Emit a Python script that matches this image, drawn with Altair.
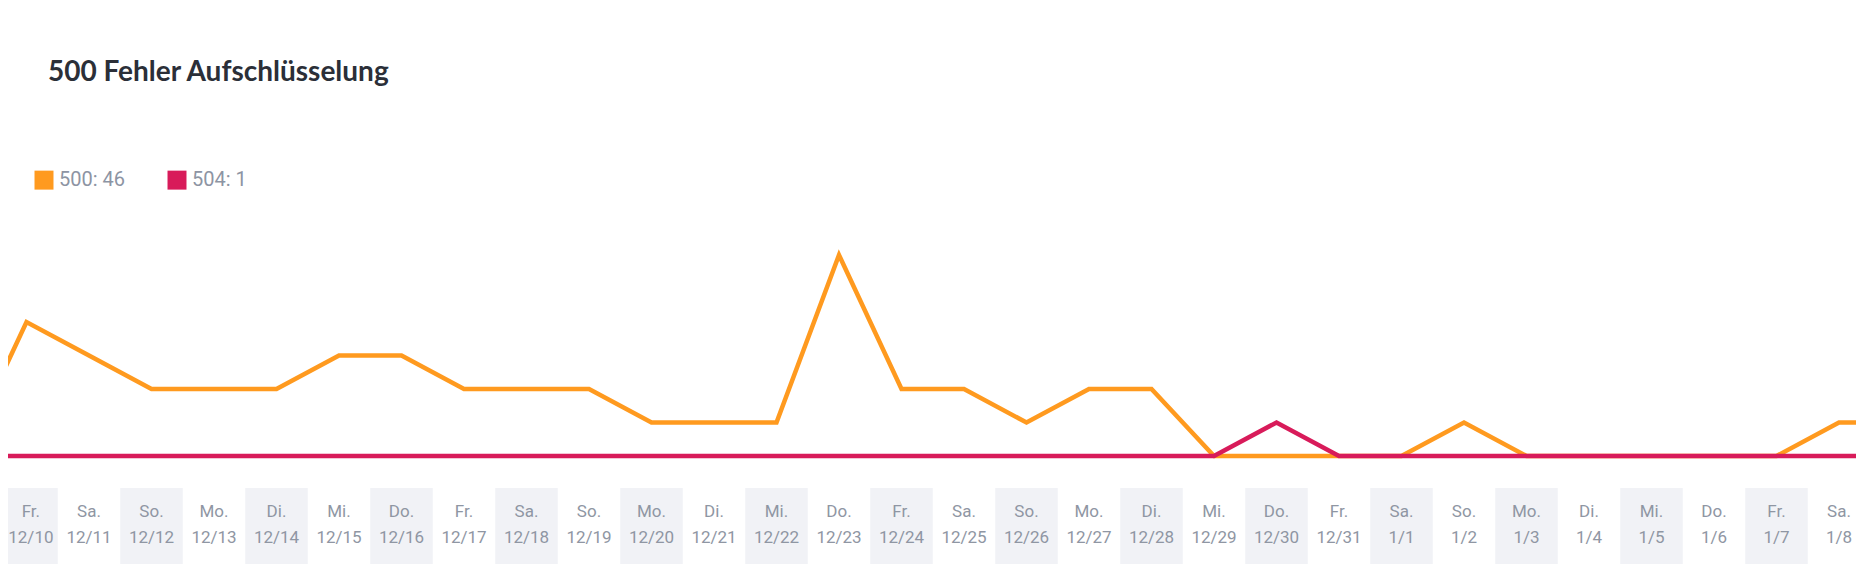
import altair as alt
import pandas as pd

# ---- data ----
title_text = "500 Fehler Aufschlüsselung"

# day index: -1 = 12/9 (off-screen left), 0 = 12/10 ... 29 = 1/8, 30 = 1/9 (off-screen right)
day_index = list(range(-1, 31))
errors_500 = [0, 4, 3, 2, 2, 2, 3, 3, 2, 2, 2, 1, 1, 1, 6, 2, 2, 1, 2, 2,
              0, 0, 0, 0, 1, 0, 0, 0, 0, 0, 1, 1]
errors_504 = [0, 0, 0, 0, 0, 0, 0, 0, 0, 0, 0, 0, 0, 0, 0, 0, 0, 0, 0, 0,
              0, 1, 0, 0, 0, 0, 0, 0, 0, 0, 0, 0]
series_names = ["500: 46", "504: 1"]
series_colors = ["#FF9A1F", "#D81B5A"]

label_days = ["Fr.", "Sa.", "So.", "Mo.", "Di.", "Mi.", "Do.",
              "Fr.", "Sa.", "So.", "Mo.", "Di.", "Mi.", "Do.",
              "Fr.", "Sa.", "So.", "Mo.", "Di.", "Mi.", "Do.",
              "Fr.", "Sa.", "So.", "Mo.", "Di.", "Mi.", "Do.",
              "Fr.", "Sa."]
label_dates = ["12/10", "12/11", "12/12", "12/13", "12/14", "12/15", "12/16",
               "12/17", "12/18", "12/19", "12/20", "12/21", "12/22", "12/23",
               "12/24", "12/25", "12/26", "12/27", "12/28", "12/29", "12/30",
               "12/31", "1/1", "1/2", "1/3", "1/4", "1/5", "1/6", "1/7", "1/8"]

# ---- tables ----
line_df = pd.concat([
    pd.DataFrame({"i": day_index, "v": errors_500, "series": series_names[0]}),
    pd.DataFrame({"i": day_index, "v": errors_504, "series": series_names[1]}),
])
label_df = pd.DataFrame({"i": list(range(len(label_dates))), "day": label_days, "date": label_dates})

W, H = 1848, 556
Y0 = 448          # pixel row of value 0 inside the plot
STEP = 33.5       # pixels per error
xscale = alt.Scale(domain=[-0.296, 29.272], nice=False, zero=False)
yscale = alt.Scale(domain=[-(H - Y0) / STEP, Y0 / STEP], nice=False, zero=False)
color_scale = alt.Scale(domain=series_names, range=series_colors)

base_lbl = alt.Chart(label_df)

bands = base_lbl.transform_filter("datum.i % 2 == 0").transform_calculate(
    x1="datum.i - 0.5", x2="datum.i + 0.5"
).mark_rect(color="#F1F2F6").encode(
    x=alt.X("x1:Q", scale=xscale, axis=None),
    x2="x2:Q",
    y=alt.value(480),
    y2=alt.value(H),
)

# keep the first date label inside the page edge
lbl_pos = "datum.i == 0 ? 0.07 : datum.i"

day_txt = base_lbl.transform_calculate(xl=lbl_pos).mark_text(
    font="Roboto", fontSize=17, color="#8F96A3", baseline="alphabetic"
).encode(
    x=alt.X("xl:Q", scale=xscale, axis=None),
    y=alt.value(509),
    text="day:N",
)
date_txt = base_lbl.transform_calculate(xl=lbl_pos).mark_text(
    font="Roboto", fontSize=17, color="#8F96A3", baseline="alphabetic"
).encode(
    x=alt.X("xl:Q", scale=xscale, axis=None),
    y=alt.value(535),
    text="date:N",
)

legend = alt.Legend(
    title=None, orient="none", legendX=26, legendY=162, direction="horizontal",
    symbolType="square", symbolSize=90, symbolStrokeWidth=9.5, symbolOpacity=1,
    labelFont="Roboto", labelFontSize=20, labelColor="#8D94A3", labelOffset=5,
    columnPadding=27, padding=0,
)

def line_layer(name):
    return alt.Chart(line_df).transform_filter(alt.datum.series == name).mark_line(
        strokeWidth=4.5, clip=True
    ).encode(
        x=alt.X("i:Q", scale=xscale, axis=None),
        y=alt.Y("v:Q", scale=yscale, axis=None),
        color=alt.Color("series:N", scale=color_scale, legend=legend),
    )

line500 = line_layer(series_names[0])
line504 = line_layer(series_names[1])

title = alt.Chart(pd.DataFrame({"t": [title_text]})).mark_text(
    font="Lato", fontWeight="bold", fontSize=28, color="#2B2F38", align="left", baseline="alphabetic"
).encode(x=alt.value(40), y=alt.value(73), text="t:N")

chart = alt.layer(bands, day_txt, date_txt, line500, line504, title).properties(
    width=W, height=H, padding=0, autosize=alt.AutoSizeParams(type="none"),
).configure_view(stroke=None)

chart.save("out.html", embed_options={"renderer": "svg", "actions": False})
